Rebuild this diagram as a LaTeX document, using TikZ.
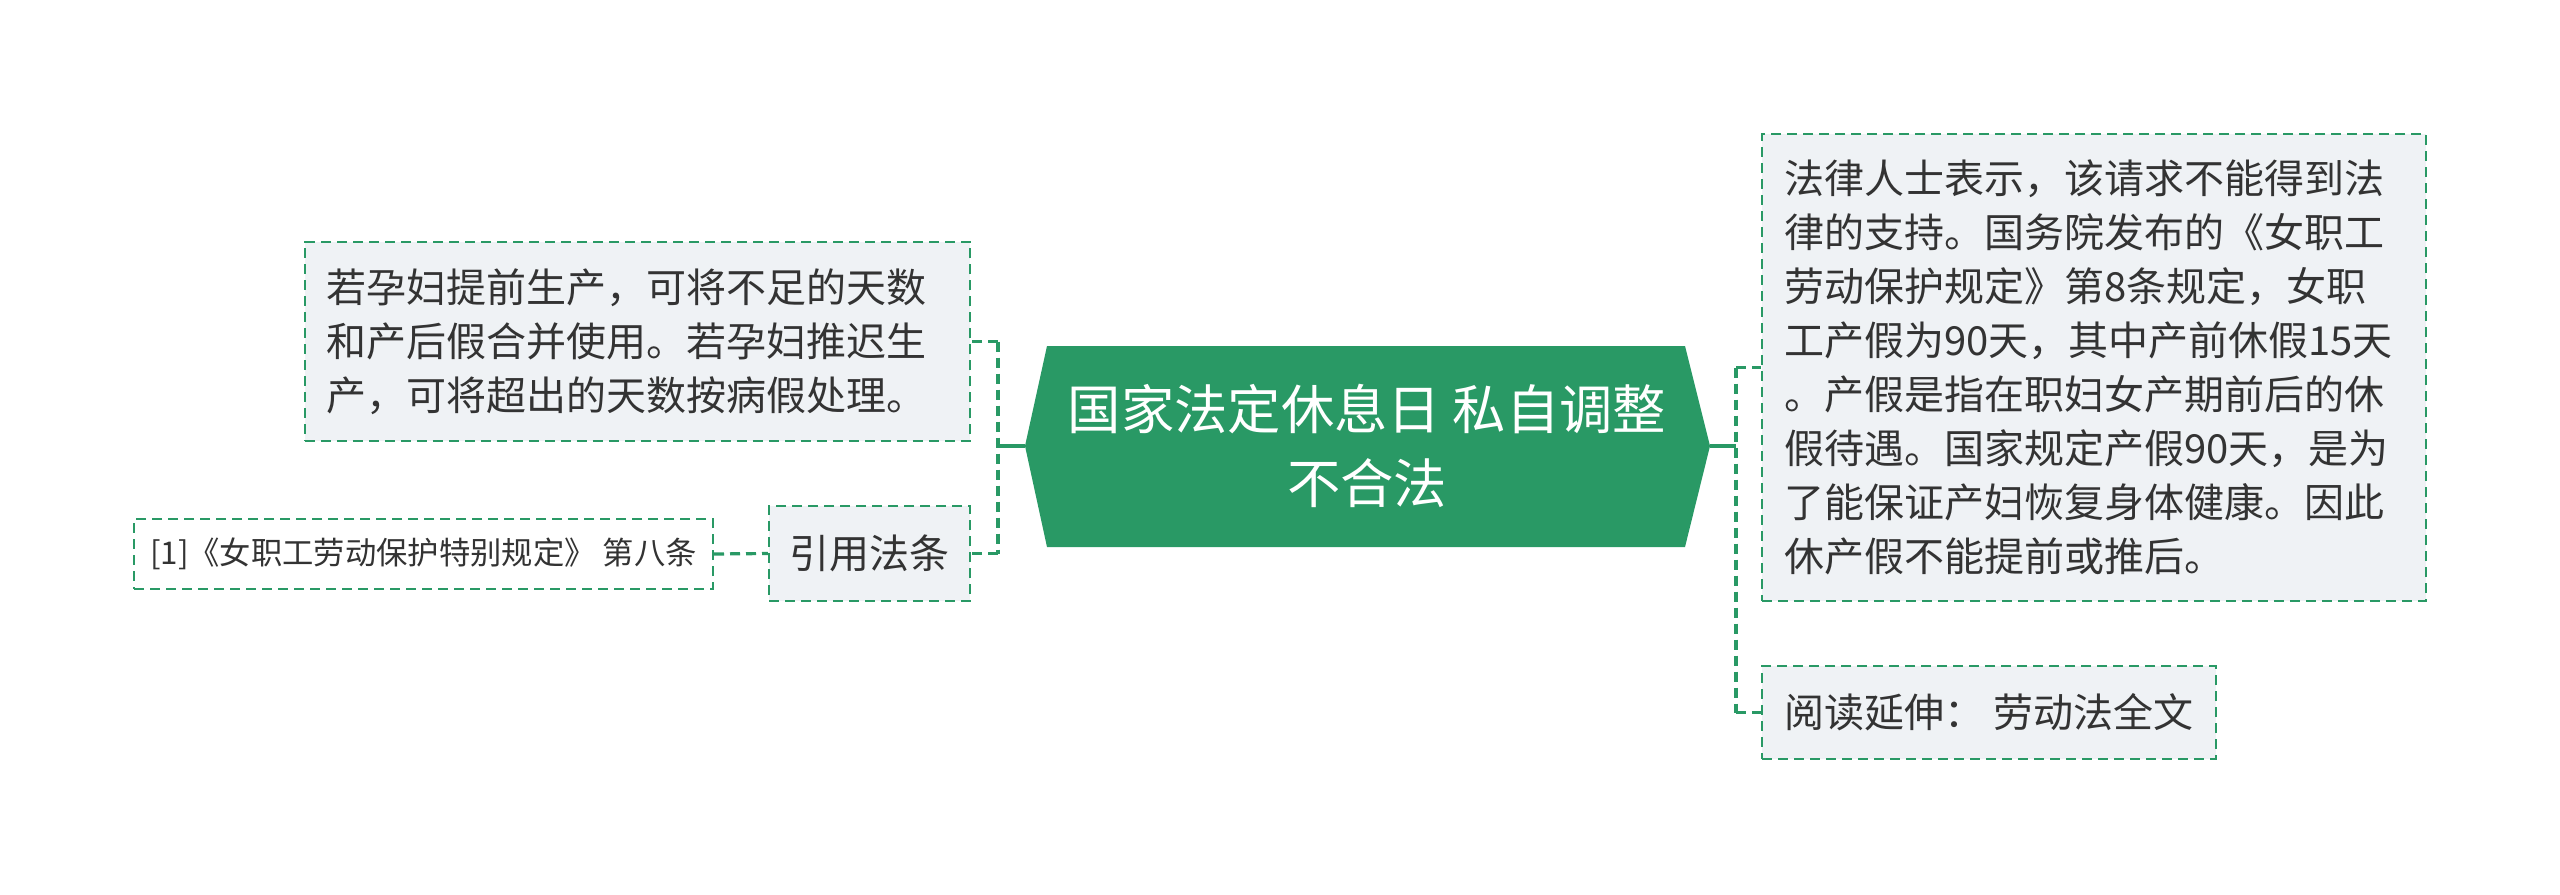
\documentclass[tikz,border=0pt]{standalone}
\usepackage{fontspec}
\setmainfont{Noto Sans CJK SC}
\usetikzlibrary{positioning}
\definecolor{mapgreen}{RGB}{41,153,101}
\definecolor{boxgray}{RGB}{239,242,245}
\definecolor{inkgray}{RGB}{51,51,51}
\tikzset{
    rootshape/.style = {fill=mapgreen,draw=none},
    rootnode/.style = {align=center,text=white,inner sep=0pt,font=\fontsize{40pt}{55pt}\selectfont},
    leafbox/.style = {rectangle,draw=mapgreen,line width=1.5pt,dash pattern=on 7.5pt off 4.5pt,fill=boxgray,text=inkgray,align=left,inner xsep=16.5pt,inner ysep=0pt,font=\fontsize{30pt}{40.5pt}\selectfont},
    tagbox/.style = {leafbox,align=center,inner xsep=0pt},
    notebox/.style = {leafbox,fill=white,align=center,inner xsep=0pt,font=\fontsize{23.5pt}{30pt}\selectfont},
    edgen/.style = {line width=2.4pt,draw=mapgreen},
    edged/.style = {line width=2.4pt,draw=mapgreen,dash pattern=on 7.5pt off 4.5pt}, % dashed
}

\begin{document}
\begin{tikzpicture}[x=0.75pt,y=-0.75pt]
  \useasboundingbox (0,0) rectangle (2560,895);

  % root
  \fill[rootshape] (1025,446) -- (1047,346) -- (1685,346) -- (1710,446) -- (1685,547) -- (1047,547) -- cycle;
  \node[rootnode] (root) at (1367,446) {国家法定休息日 私自调整\\不合法};
  \coordinate (rootl) at (1025,446);
  \coordinate (rootr) at (1710,446);
  \coordinate (busl) at (998,446);
  \coordinate (busr) at (1736,446);

  % left side
  \node[leafbox,text width=466pt,minimum height=149.25pt] (early) at (637.5,341.5)
    {若孕妇提前生产，可将不足的天数\\和产后假合并使用。若孕妇推迟生\\产，可将超出的天数按病假处理。};
  \node[tagbox,minimum width=150.75pt,minimum height=71.25pt] (cite) at (869.5,553.5) {引用法条};
  \node[notebox,minimum width=434.25pt,minimum height=52.5pt] (note) at (423.5,554) {[1]《女职工劳动保护特别规定》 第八条};

  % right side
  \node[leafbox,text width=465pt,minimum height=350.25pt] (law) at (2094,367.5)
    {法律人士表示，该请求不能得到法\\律的支持。国务院发布的《女职工\\劳动保护规定》第8条规定，女职\\工产假为90天，其中产前休假15天\\。产假是指在职妇女产期前后的休\\假待遇。国家规定产假90天，是为\\了能保证产妇恢复身体健康。因此\\休产假不能提前或推后。};
  \node[tagbox,minimum width=340.5pt,minimum height=69.75pt] (read) at (1989,712.5) {阅读延伸： 劳动法全文};

  \draw[edgen] (rootl) -- (busl);
  \draw[edged] (busl |- early.east) -- (busl |- cite.east);
  \draw[edged] (busl |- early.east) -- (early.east);
  \draw[edged] (busl |- cite.east) -- (cite.east);
  \draw[edged] (note.east) -- (cite.west);

  \draw[edgen] (rootr) -- (busr);
  \draw[edged] (busr |- law.west) -- (busr |- read.west);
  \draw[edged] (busr |- law.west) -- (law.west);
  \draw[edged] (busr |- read.west) -- (read.west);
\end{tikzpicture}
\end{document}
